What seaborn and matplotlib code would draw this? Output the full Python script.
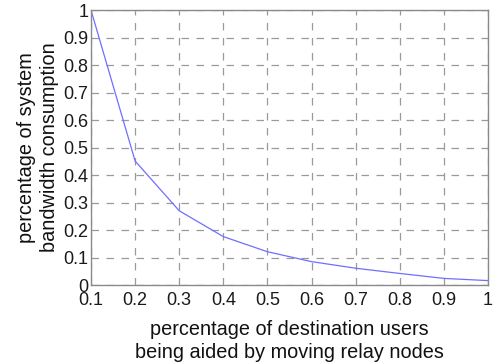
import pandas as pd
import matplotlib.pyplot as plt
import seaborn as sns

# fraction of users aided by moving relay nodes vs. bandwidth share
aided = [0.1, 0.2, 0.3, 0.4, 0.5, 0.6, 0.7, 0.8, 0.9, 1.0]
bandwidth = [1.0, 0.451, 0.27, 0.176, 0.121, 0.085, 0.061, 0.042, 0.024, 0.016]
xticks = [0.1, 0.2, 0.3, 0.4, 0.5, 0.6, 0.7, 0.8, 0.9, 1.0]
xtick_labels = ["0.1", "0.2", "0.3", "0.4", "0.5", "0.6", "0.7", "0.8", "0.9", "1"]
yticks = [0, 0.1, 0.2, 0.3, 0.4, 0.5, 0.6, 0.7, 0.8, 0.9, 1.0]
ytick_labels = ["0", "0.1", "0.2", "0.3", "0.4", "0.5", "0.6", "0.7", "0.8", "0.9", "1"]

df = pd.DataFrame({"aided": aided, "bandwidth": bandwidth})

sns.set_theme(style="white")
plt.rcParams['font.family'] = ['Liberation Sans', 'DejaVu Sans']

fig = plt.figure(figsize=(4.93, 3.62), dpi=100)
ax = fig.add_axes([0.1846, 0.2127, 0.8054, 0.7593])

sns.lineplot(ax=ax, data=df, x="aided", y="bandwidth", color="#6f6fff", linewidth=0.9)

ax.set_xlim(0.1, 1.0)
ax.set_ylim(0, 1.0)
ax.set_xticks(xticks)
ax.set_xticklabels(xtick_labels)
ax.set_yticks(yticks)
ax.set_yticklabels(ytick_labels)
ax.tick_params(direction="in", length=4, color="#808080", labelsize=13,
               labelcolor="#1a1a1a", pad=2)
ax.tick_params(axis="x", pad=5)

ax.grid(True, linestyle=(0, (6, 6)), color="#9a9a9a", linewidth=0.9)
for s in ax.spines.values():
    s.set_color("#8a8a8a")
    s.set_linewidth(1.0)

ax.set_xlabel("percentage of destination users\nbeing aided by moving relay nodes",
              fontsize=14.3, color="#111111", linespacing=1.25, labelpad=8)
ax.set_ylabel("percentage of system\nbandwidth consumption",
              fontsize=14.3, color="#111111", linespacing=1.25, labelpad=3)

plt.savefig("out.png", dpi=100)
plt.close()
